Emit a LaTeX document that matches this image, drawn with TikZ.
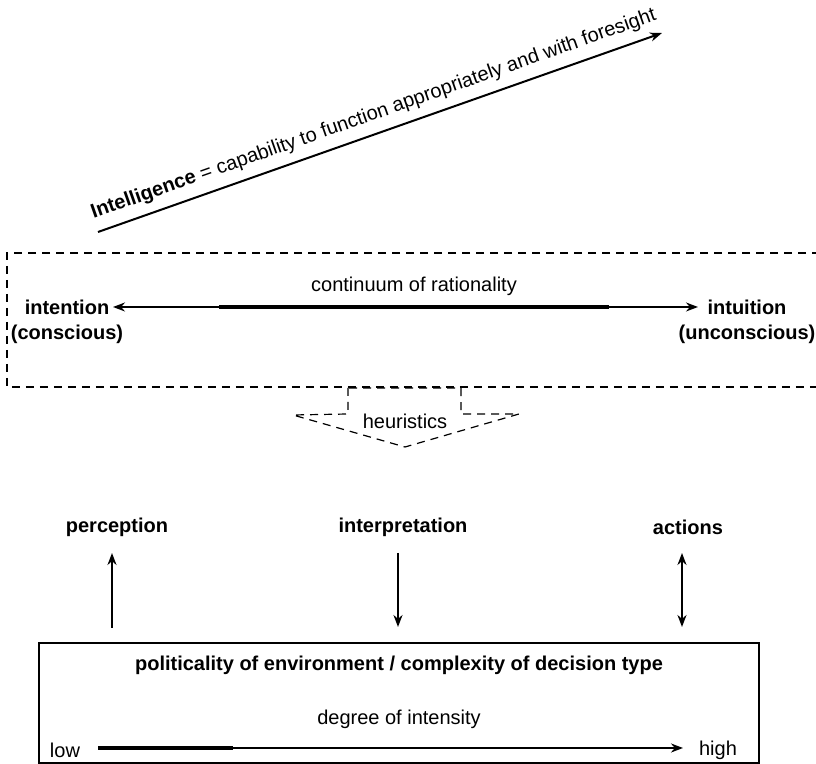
\documentclass[tikz,border=0pt]{standalone}
\usepackage{fontspec}
\setmainfont{Liberation Sans}
\usetikzlibrary{arrows.meta}

\begin{document}
\begin{tikzpicture}[x=0.5pt,y=-0.5pt,font=\fontsize{10}{12.5}\selectfont,
	tip/.style={-{Stealth[length=6pt,width=4.5pt]},line width=1pt},
	twotip/.style={{Stealth[length=6pt,width=4.5pt]}-{Stealth[length=6pt,width=4.5pt]},line width=1pt},
	label/.style={font=\fontsize{10}{12.5}\selectfont\bfseries,align=center},
	fence/.style={dashed,dash pattern=on 4pt off 3pt,line width=0.6pt}]
	\useasboundingbox (0,0) rectangle (816,764);
	% intelligence
	\coordinate (i0) at (98,232);
	\coordinate (i1) at (662,33);
	\draw[tip] (i0) -- (i1) node [midway,sloped,above=1pt] (intel) {\textbf{Intelligence} = capability to function appropriately and with foresight};
	% rationality
	\draw[fence] (820,253) -- (7,253) -- (7,387) -- (820,387);
	\path (67,322) node [label] (intention) {intention\\(conscious)};
	\path (747,322) node [label] (intuition) {intuition\\(unconscious)};
	\coordinate (r0) at (113,307);
	\coordinate (r1) at (698,307);
	\coordinate (r2) at (219,307);
	\coordinate (r3) at (609,307);
	\draw[twotip,line width=0.8pt] (r0) -- (r1);
	\draw[line width=1.6pt] (r2) -- (r3);
	\path (414,286) node (rationality) {continuum of rationality};
	% heuristics
	\draw[fence] (348,388) -- (348,414) -- (293,415) -- (405,447) -- (519,414) -- (461,414) -- (461,388) -- cycle;
	\path (405,421) node (heuristics) {heuristics};
	% perception, interpretation, actions
	\path (117,527) node [label] (perception) {perception};
	\path (403,527) node [label] (interpretation) {interpretation};
	\path (688,527) node [label] (actions) {actions};
	\coordinate (p0) at (112,628); \coordinate (p1) at (112,553);
	\coordinate (n0) at (398,553); \coordinate (n1) at (398,627);
	\coordinate (a0) at (682,553); \coordinate (a1) at (682,627);
	\draw[tip] (p0) -- (p1);
	\draw[tip] (n0) -- (n1);
	\draw[twotip] (a0) -- (a1);
	% environment
	\draw[line width=1pt] (39,643) rectangle (759,763);
	\path (399,665) node [label] (politicality) {politicality of environment / complexity of decision type};
	\path (399,719) node (intensity) {degree of intensity};
	\path (65,750) node (low) {low};
	\path (718,750) node (high) {high};
	\coordinate (d0) at (98,748);
	\coordinate (d1) at (233,748);
	\coordinate (d2) at (683,748);
	\draw[tip] (d0) -- (d2);
	\draw[line width=2pt] (d0) -- (d1);
\end{tikzpicture}
\end{document}
